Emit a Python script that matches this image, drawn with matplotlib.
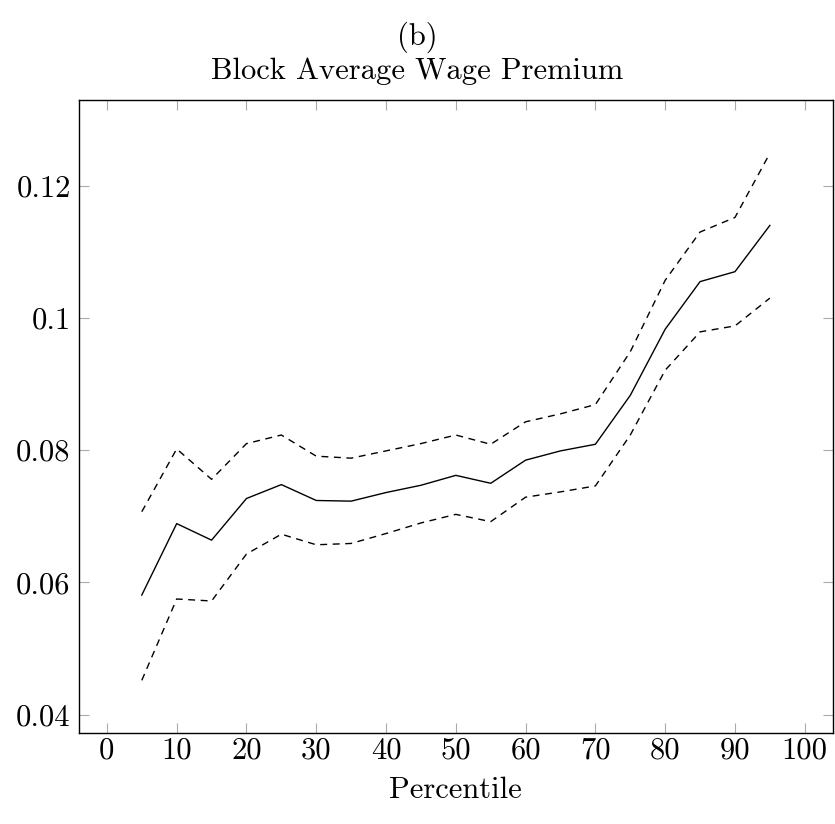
import matplotlib
matplotlib.use("Agg")
import matplotlib.pyplot as plt

# data
percentile = [5, 10, 15, 20, 25, 30, 35, 40, 45, 50, 55, 60, 65, 70, 75, 80, 85, 90, 95]
premium = [0.0581, 0.0689, 0.0664, 0.0727, 0.0748, 0.0724, 0.0723, 0.0736, 0.0747, 0.0762,
           0.0750, 0.0785, 0.0799, 0.0809, 0.0883, 0.0983, 0.1055, 0.1070, 0.1140]
upper = [0.0707, 0.0802, 0.0756, 0.0810, 0.0823, 0.0791, 0.0788, 0.0799, 0.0810, 0.0823,
         0.0809, 0.0843, 0.0855, 0.0869, 0.0949, 0.1057, 0.1130, 0.1152, 0.1249]
lower = [0.0452, 0.0575, 0.0572, 0.0643, 0.0673, 0.0657, 0.0659, 0.0674, 0.0690, 0.0703,
         0.0692, 0.0729, 0.0737, 0.0746, 0.0823, 0.0921, 0.0979, 0.0988, 0.1030]

xticks = [0, 10, 20, 30, 40, 50, 60, 70, 80, 90, 100]
yticks = [0.04, 0.06, 0.08, 0.10, 0.12]
ytick_labels = ["0.04", "0.06", "0.08", "0.1", "0.12"]

plt.rcParams['font.family'] = 'serif'
plt.rcParams['font.serif'] = ['cmr10']
plt.rcParams['mathtext.fontset'] = 'cm'
plt.rcParams['axes.formatter.use_mathtext'] = True

fig = plt.figure(figsize=(8.35, 8.24), dpi=100)
ax = fig.add_axes([0.0946, 0.1108, 0.9026, 0.7678])

ax.plot(percentile, premium, color='black', lw=1.0)
ax.plot(percentile, upper, color='black', lw=1.0, dashes=(5, 4))
ax.plot(percentile, lower, color='black', lw=1.0, dashes=(5, 4))

ax.set_xlim(-4, 104)
ax.set_ylim(0.03728, 0.13296)
ax.set_xticks(xticks)
ax.set_xticklabels([str(t) for t in xticks])
ax.set_yticks(yticks)
ax.set_yticklabels(ytick_labels)

ax.tick_params(direction='in', length=7, width=0.8, color='#aaaaaa',
               top=True, right=True, labelsize=22, pad=6)
ax.tick_params(axis='x', pad=3)
for s in ax.spines.values():
    s.set_linewidth(1.0)
    s.set_color('black')

ax.set_xlabel("Percentile", fontsize=22, labelpad=9)

fig.text(0.5, 1 - 37 / 824, "(b)", ha='center', va='center', fontsize=22)
fig.text(0.5, 1 - 71 / 824, "Block Average Wage Premium", ha='center', va='center', fontsize=22)

fig.savefig("out.png", dpi=100)
